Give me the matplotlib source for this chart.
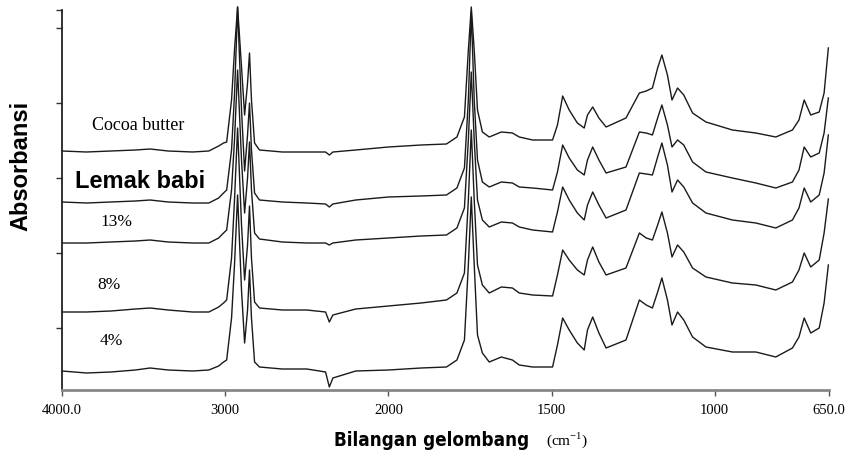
import matplotlib
matplotlib.use("Agg")
import matplotlib.pyplot as plt
from matplotlib import font_manager
import numpy as np

# Bilangan gelombang (cm-1), sama untuk semua spektrum
wn = [4000, 3850, 3700, 3550, 3460, 3350, 3200, 3100, 3040, 3010,
      2991, 2961, 2943, 2924, 2900, 2881, 2863, 2851, 2839, 2820,
      2790, 2650, 2500, 2385, 2362, 2340, 2200, 2000, 1900, 1822,
      1790, 1767, 1755, 1746, 1737, 1727, 1712, 1691, 1654, 1620,
      1599, 1558, 1497, 1482, 1466, 1446, 1421, 1400, 1390, 1374,
      1355, 1333, 1272, 1231, 1210, 1191, 1175, 1162, 1145, 1131,
      1114, 1095, 1068, 1027, 946, 874, 813, 762, 742, 726,
      706, 680, 665, 652]

# Absorbansi (sudah digeser vertikal)
cocoa = [2.52, 2.51, 2.52, 2.53, 2.54, 2.52, 2.51, 2.52, 2.57, 2.60,
         2.61, 3.03, 3.53, 3.96, 3.36, 2.88, 3.20, 3.50, 3.03, 2.60,
         2.53, 2.51, 2.51, 2.51, 2.48, 2.51, 2.53, 2.56, 2.58, 2.59,
         2.66, 2.86, 3.53, 3.96, 3.53, 2.93, 2.71, 2.66, 2.71, 2.70,
         2.66, 2.63, 2.63, 2.78, 3.07, 2.93, 2.80, 2.75, 2.88, 2.96,
         2.85, 2.76, 2.85, 3.10, 3.12, 3.15, 3.35, 3.48, 3.28, 3.03,
         3.15, 3.08, 2.90, 2.81, 2.73, 2.70, 2.66, 2.73, 2.83, 3.03,
         2.88, 2.91, 3.10, 3.55]

lard = [2.01, 2.00, 2.01, 2.02, 2.03, 2.01, 2.00, 2.00, 2.05, 2.10,
        2.13, 2.53, 3.08, 3.96, 2.93, 2.32, 2.68, 3.00, 2.53, 2.10,
        2.03, 2.01, 2.00, 1.99, 1.96, 1.99, 2.03, 2.06, 2.07, 2.08,
        2.15, 2.35, 3.03, 3.91, 3.03, 2.43, 2.21, 2.16, 2.21, 2.20,
        2.16, 2.15, 2.13, 2.31, 2.58, 2.45, 2.33, 2.28, 2.43, 2.56,
        2.43, 2.30, 2.36, 2.71, 2.70, 2.68, 2.85, 2.98, 2.78, 2.56,
        2.63, 2.58, 2.41, 2.31, 2.25, 2.20, 2.15, 2.21, 2.33, 2.56,
        2.46, 2.50, 2.70, 3.05]

mix13 = [1.60, 1.60, 1.61, 1.62, 1.63, 1.61, 1.60, 1.60, 1.65, 1.70,
         1.73, 2.13, 2.63, 3.33, 2.43, 1.90, 2.25, 2.61, 2.13, 1.70,
         1.64, 1.61, 1.60, 1.60, 1.58, 1.60, 1.63, 1.65, 1.67, 1.68,
         1.75, 1.95, 2.63, 3.31, 2.63, 2.03, 1.83, 1.76, 1.81, 1.80,
         1.76, 1.73, 1.71, 1.91, 2.16, 2.03, 1.90, 1.83, 1.98, 2.11,
         1.98, 1.85, 1.93, 2.30, 2.29, 2.28, 2.46, 2.60, 2.38, 2.11,
         2.23, 2.16, 2.00, 1.90, 1.83, 1.80, 1.75, 1.83, 1.95, 2.15,
         2.01, 2.08, 2.30, 2.68]

mix8 = [0.91, 0.91, 0.92, 0.94, 0.95, 0.93, 0.91, 0.91, 0.96, 1.00,
        1.03, 1.45, 2.03, 2.75, 1.78, 1.23, 1.58, 1.97, 1.45, 1.01,
        0.95, 0.93, 0.93, 0.91, 0.81, 0.88, 0.94, 0.97, 1.00, 1.03,
        1.10, 1.30, 2.03, 2.73, 2.03, 1.38, 1.18, 1.10, 1.16, 1.15,
        1.10, 1.08, 1.07, 1.28, 1.53, 1.43, 1.33, 1.28, 1.43, 1.56,
        1.41, 1.28, 1.35, 1.70, 1.65, 1.63, 1.78, 1.91, 1.70, 1.46,
        1.58, 1.51, 1.35, 1.26, 1.20, 1.18, 1.13, 1.21, 1.33, 1.50,
        1.36, 1.43, 1.70, 2.04]

mix4 = [0.32, 0.30, 0.31, 0.33, 0.35, 0.33, 0.32, 0.33, 0.37, 0.41,
        0.43, 0.85, 1.38, 2.08, 1.13, 0.60, 0.93, 1.33, 0.85, 0.41,
        0.36, 0.34, 0.34, 0.31, 0.16, 0.25, 0.32, 0.33, 0.35, 0.36,
        0.43, 0.63, 1.38, 2.06, 1.38, 0.68, 0.50, 0.41, 0.46, 0.43,
        0.38, 0.36, 0.36, 0.58, 0.85, 0.73, 0.60, 0.53, 0.73, 0.86,
        0.70, 0.55, 0.63, 1.03, 0.98, 0.95, 1.11, 1.25, 1.03, 0.78,
        0.91, 0.83, 0.66, 0.56, 0.51, 0.51, 0.46, 0.55, 0.66, 0.85,
        0.70, 0.75, 1.00, 1.38]

spectra = [cocoa, lard, mix13, mix8, mix4]
xticks = [4000, 3000, 2000, 1500, 1000, 650]
xticklabels = ['4000.0', '3000', '2000', '1500', '1000', '650.0']


# skala FTIR: di bawah 2000 cm-1 skalanya dua kali lebih lebar
def fwd(w):
    w = np.asarray(w, dtype=float)
    return np.where(w >= 2000, 2 + (w - 2000) / 1000, 2 - (2000 - w) / 500)


def inv(u):
    u = np.asarray(u, dtype=float)
    return np.where(u >= 2, 2000 + (u - 2) * 1000, 2000 - (2 - u) * 500)


# cari font tebal yang sempit untuk judul sumbu x
narrow = None
for f in font_manager.fontManager.ttflist:
    name = f.fname.lower()
    if ('narrow' in name or 'condensed' in name) and 'bold' in name and 'oblique' not in name \
            and 'italic' not in name:
        narrow = f.fname
        break

fig = plt.figure(figsize=(8.52, 4.62), dpi=100)
ax = fig.add_axes([62 / 852, 72 / 462, 767 / 852, 380 / 462])
ax.set_xscale('function', functions=(fwd, inv))

for s in spectra:
    ax.plot(wn, s, color='#1a1a1a', lw=1.0, clip_on=False)

ax.set_xlim(4000, 650)
ax.set_ylim(0.13, 3.93)
ax.set_xticks(xticks)
ax.set_xticklabels(xticklabels, family='Liberation Serif', fontsize=10.5)
ax.set_yticks([0.75, 1.5, 2.25, 3.0, 3.75, 3.93])
ax.set_yticklabels([])
ax.xaxis.set_minor_locator(plt.NullLocator())
ax.tick_params(axis='x', direction='out', length=4, width=1, color='#555555', pad=6)
ax.tick_params(axis='y', direction='out', length=4, width=1, color='#333333')

for side in ['top', 'right']:
    ax.spines[side].set_visible(False)
ax.spines['left'].set_linewidth(1.3)
ax.spines['left'].set_color('#222222')
ax.spines['bottom'].set_linewidth(2.0)
ax.spines['bottom'].set_color('#888888')

# label tiap spektrum
serif = 'Liberation Serif'
ax.text(3535, 2.78, 'Cocoa butter', family=serif, fontsize=13, ha='center', va='center')
ax.text(3523, 2.22, 'Lemak babi', family='Liberation Sans', fontweight='bold',
        fontsize=17, ha='center', va='center')
ax.text(3665, 1.81, '13%', family=serif, fontsize=12.5, ha='center', va='center')
ax.text(3715, 1.18, '8%', family=serif, fontsize=12.5, ha='center', va='center')
ax.text(3700, 0.62, '4%', family=serif, fontsize=12.5, ha='center', va='center')

fig.text(0.025, 0.64, 'Absorbansi', rotation=90, family='Liberation Sans',
         fontweight='bold', fontsize=17, ha='center', va='center')
if narrow:
    xlab = dict(fontproperties=font_manager.FontProperties(fname=narrow, size=13.5))
else:
    xlab = dict(family='Liberation Sans', fontweight='bold', fontsize=11.5)
fig.text(0.507, 0.047, 'Bilangan gelombang', ha='center', va='center', **xlab)
fig.text(0.666, 0.047, '(cm$^{\\mathregular{-1}}$)', family=serif, fontsize=11,
         ha='center', va='center')

fig.savefig('out.png', dpi=100)
